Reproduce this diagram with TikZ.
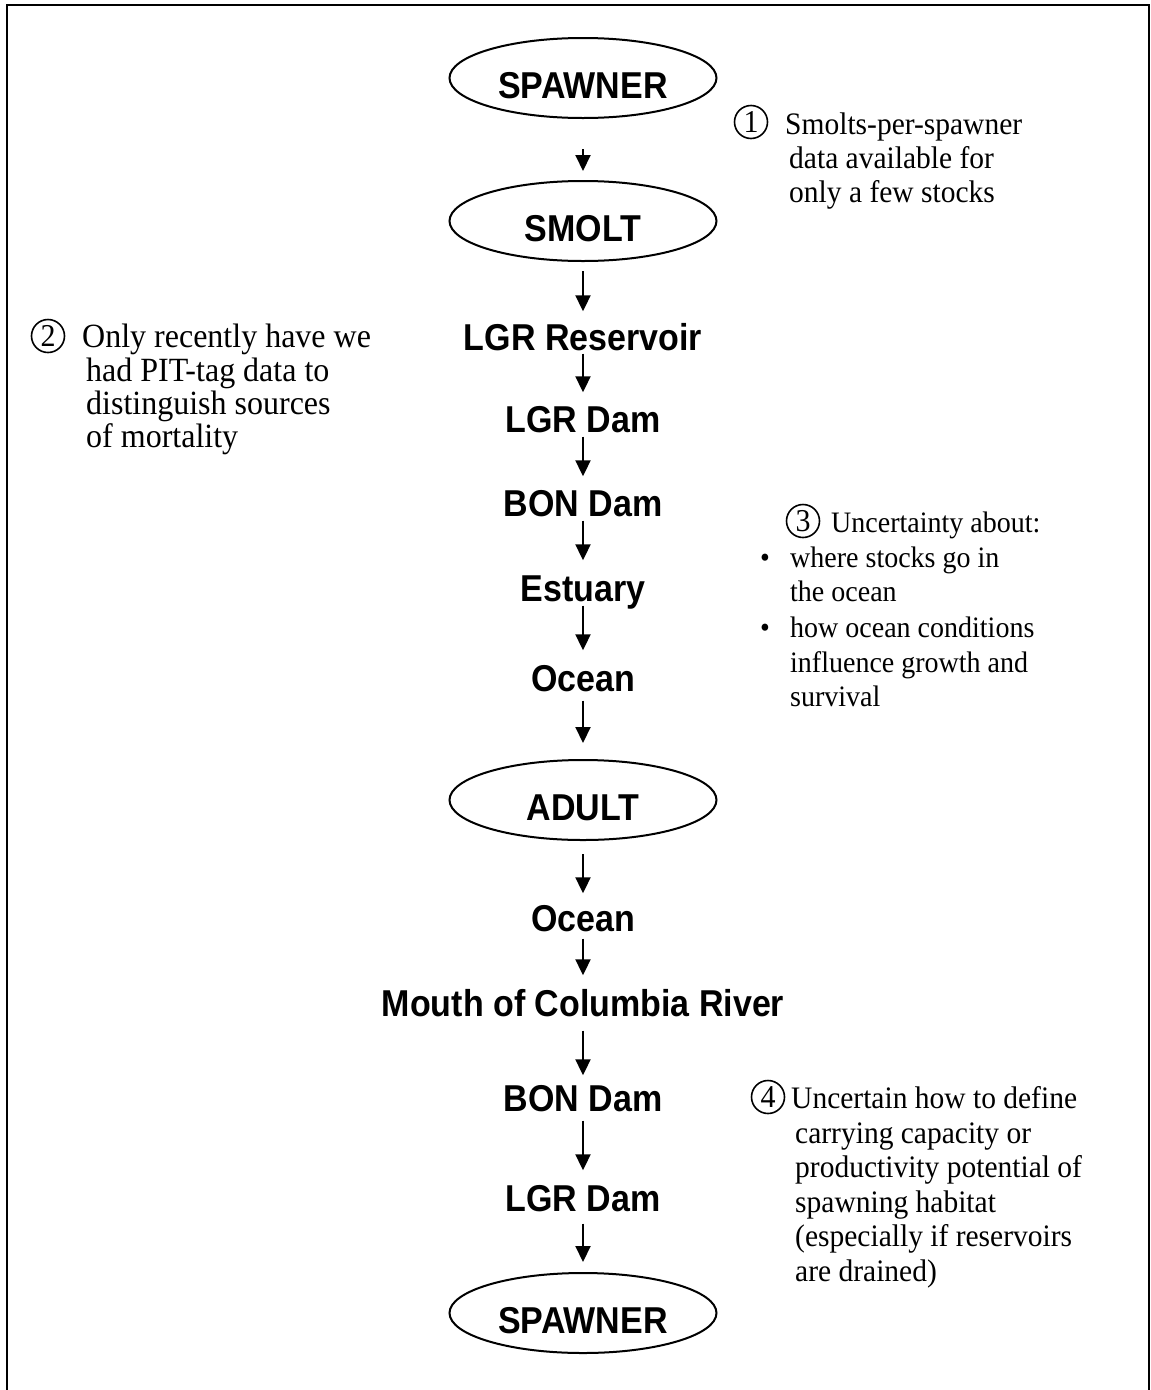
\documentclass[tikz,border=0pt]{standalone}
\usepackage{graphicx}
\usepackage{fontspec}
\setmainfont{Liberation Serif}
\newfontfamily\hvfont{Liberation Sans}
\usetikzlibrary{shapes.geometric,arrows.meta}
\newcommand{\vs}[1]{\scalebox{1}[1.1]{#1}}
\newcommand{\vn}[1]{\scalebox{1}[1.06]{#1}}
\begin{document}
\begin{tikzpicture}[x=1pt,y=-1pt,
  stagetext/.style={font=\hvfont\bfseries\fontsize{34}{34}\selectfont, inner sep=0pt, text height=27pt, text depth=0pt},
  lifestage/.style={ellipse, draw, line width=2pt, minimum width=267pt, minimum height=80pt, inner sep=0pt,
    text height=41pt, text depth=0pt, font=\hvfont\bfseries\fontsize{34}{34}\selectfont},
  arr/.style={line width=2pt, -{Triangle[length=16pt,width=15pt]}},
  note/.style={font=\fontsize{29.5}{34}\selectfont, anchor=base west, inner sep=0pt},
  notebig/.style={note, font=\fontsize{32}{34}\selectfont},
  notesmall/.style={note, font=\fontsize{28}{34}\selectfont},
  num/.style={circle, draw, line width=1.6pt, minimum size=33pt, inner sep=0pt, font=\fontsize{30}{30}\selectfont},
  framestyle/.style={line width=2.5pt}
]
\useasboundingbox (0,0) rectangle (1151,1390);
\draw[framestyle] (7,1390) -- (7,5) -- (1149,5) -- (1149,1390);

% flow
\node[lifestage] (sp1) at (583,78) {\vs{SPAWNER}};
\node[lifestage] (sm) at (583,221) {\vs{SMOLT}};
\node[stagetext] (lgrres) at (583,337) {\vs{LGR Reservoir}};
\node[stagetext] (lgrdam1) at (583,419) {\vs{LGR Dam}};
\node[stagetext] (bon1) at (583,503) {\vs{BON Dam}};
\node[stagetext] (est) at (583,588) {\vs{Estuary}};
\node[stagetext] (oc1) at (583,678) {\vs{Ocean}};
\node[lifestage] (ad) at (583,800) {\vs{ADULT}};
\node[stagetext] (oc2) at (583,918) {\vs{Ocean}};
\node[stagetext] (mouth) at (583,1003) {\vs{Mouth of Columbia River}};
\node[stagetext] (bon2) at (583,1098) {\vs{BON Dam}};
\node[stagetext] (lgrdam2) at (583,1198) {\vs{LGR Dam}};
\node[lifestage] (sp2) at (583,1313) {\vs{SPAWNER}};

\draw[arr, shorten <=30pt, shorten >=9pt] (sp1) -- (sm);
\draw[arr, shorten <=9pt, shorten >=12pt] (sm) -- (lgrres);
\draw[arr, shorten <=3pt, shorten >=13pt] (lgrres) -- (lgrdam1);
\draw[arr, shorten <=4pt, shorten >=13pt] (lgrdam1) -- (bon1);
\draw[arr, shorten <=4pt, shorten >=14pt] (bon1) -- (est);
\draw[arr, shorten <=4pt, shorten >=14pt] (est) -- (oc1);
\draw[arr, shorten <=9pt, shorten >=16pt] (oc1) -- (ad);
\draw[arr, shorten <=13pt, shorten >=11pt] (ad) -- (oc2);
\draw[arr, shorten <=7pt, shorten >=14pt] (oc2) -- (mouth);
\draw[arr, shorten <=14pt, shorten >=9pt] (mouth) -- (bon2);
\draw[arr, shorten <=9pt, shorten >=14pt] (bon2) -- (lgrdam2);
\draw[arr, shorten <=12pt, shorten >=10pt] (lgrdam2) -- (sp2);

% note 1
\node[num] (c1) at (751,122) {\vn{1}};
\node[note] (n1a) at (785,134) {\vn{Smolts-per-spawner}};
\node[note] (n1b) at (789,168) {\vn{data available for}};
\node[note] (n1c) at (789,202) {\vn{only a few stocks}};

% note 2
\node[num] (c2) at (48,336) {\vn{2}};
\node[notebig] (n2a) at (82,347) {\vn{Only recently have we}};
\node[notebig] (n2b) at (86,381) {\vn{had PIT-tag data to}};
\node[notebig] (n2c) at (86,414) {\vn{distinguish sources}};
\node[notebig] (n2d) at (86,447) {\vn{of mortality}};

% note 3
\node[num] (c3) at (803,521) {\vn{3}};
\node[notesmall] (n3a) at (831,532) {\vn{Uncertainty about:}};
\node[notesmall] (b3a) at (760,567) {\vn{•}};
\node[notesmall] (n3b) at (790,567) {\vn{where stocks go in}};
\node[notesmall] (n3c) at (790,601) {\vn{the ocean}};
\node[notesmall] (b3b) at (760,637) {\vn{•}};
\node[notesmall] (n3d) at (790,637) {\vn{how ocean conditions}};
\node[notesmall] (n3e) at (790,672) {\vn{influence growth and}};
\node[notesmall] (n3f) at (790,706) {\vn{survival}};

% note 4
\node[num] (c4) at (768,1097) {\vn{4}};
\node[note] (n4a) at (791,1108) {\vn{Uncertain how to define}};
\node[note] (n4b) at (795,1143) {\vn{carrying capacity or}};
\node[note] (n4c) at (795,1177) {\vn{productivity potential of}};
\node[note] (n4d) at (795,1212) {\vn{spawning habitat}};
\node[note] (n4e) at (795,1246) {\vn{(especially if reservoirs}};
\node[note] (n4f) at (795,1281) {\vn{are drained)}};
\end{tikzpicture}
\end{document}
